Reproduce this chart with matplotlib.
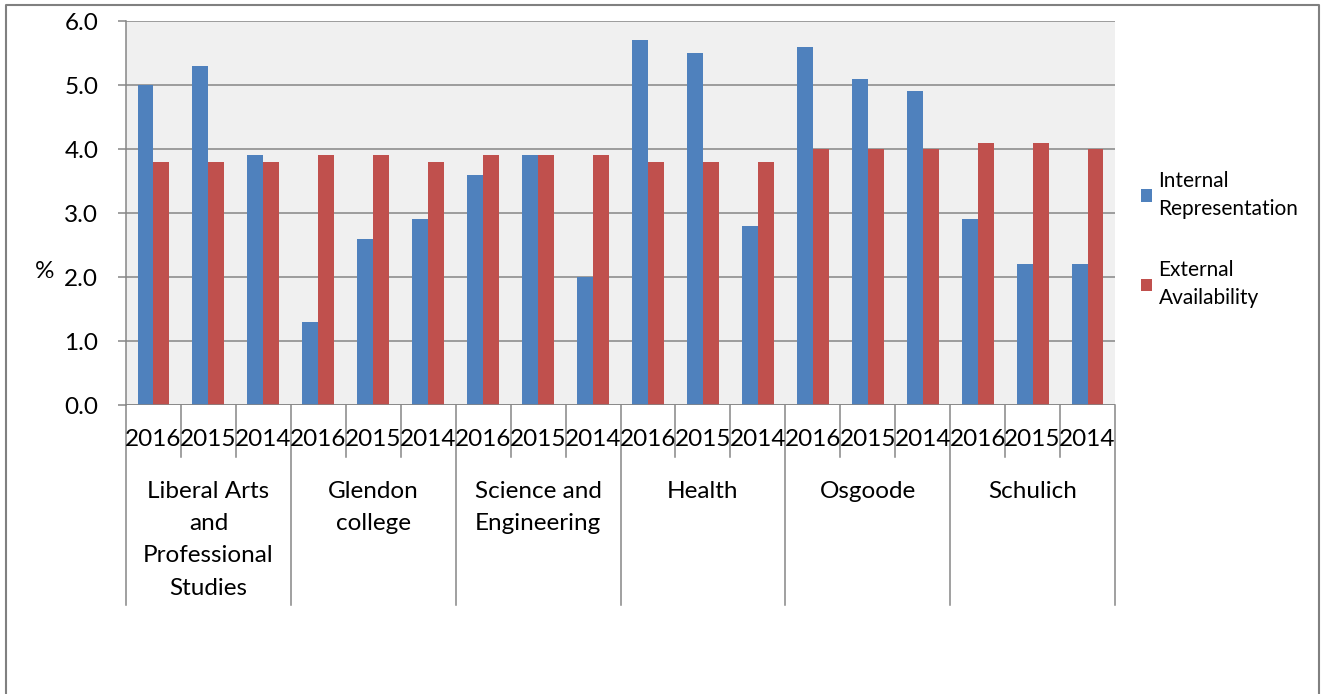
import matplotlib.pyplot as plt
from matplotlib.lines import Line2D
from matplotlib.transforms import blended_transform_factory

# Data
faculties = ['Liberal Arts\nand\nProfessional\nStudies', 'Glendon\ncollege',
             'Science and\nEngineering', 'Health', 'Osgoode', 'Schulich']
years = ['2016', '2015', '2014']
internal = [5.0, 5.3, 3.9,
            1.3, 2.6, 2.9,
            3.6, 3.9, 2.0,
            5.7, 5.5, 2.8,
            5.6, 5.1, 4.9,
            2.9, 2.2, 2.2]
external = [3.8, 3.8, 3.8,
            3.9, 3.9, 3.8,
            3.9, 3.9, 3.9,
            3.8, 3.8, 3.8,
            4.0, 4.0, 4.0,
            4.1, 4.1, 4.0]

plt.rcParams['font.family'] = ['Lato', 'DejaVu Sans']
grid_c = '#868686'
fs = 17.5

fig = plt.figure(figsize=(13.24, 6.94), dpi=100)
ax = fig.add_axes([126 / 1324, 1 - 405 / 694, 989 / 1324, 384 / 694])
ax.set_facecolor('#F0F0F0')

n = len(internal)
xs = list(range(n))
w = 0.29
ax.bar([x - w / 2 for x in xs], internal, width=w, color='#4F81BD', zorder=3,
       label='Internal\nRepresentation')
ax.bar([x + w / 2 for x in xs], external, width=w, color='#C0504D', zorder=3,
       label='External\nAvailability')

ax.set_xlim(-0.5, n - 0.5)
ax.set_ylim(0, 6)
ax.set_yticks([0, 1, 2, 3, 4, 5, 6])
ax.set_yticklabels([f'{v:.1f}' for v in range(7)], fontsize=fs)
ax.yaxis.grid(True, color=grid_c, linewidth=1.1, zorder=1)
ax.tick_params(axis='y', length=6, width=1.1, color=grid_c, pad=14)
ax.set_xticks([])
for s in ['top', 'right', 'bottom']:
    ax.spines[s].set_visible(False)
ax.spines['left'].set_color(grid_c)
ax.spines['left'].set_linewidth(1.1)
# baseline extending past the axis like the other gridlines
ax.axhline(0, color=grid_c, linewidth=1.1, zorder=4)


def fy(p):
    return 1 - p / 694


fig.text(45 / 1324, fy(272), '%', fontsize=fs, ha='center', va='center')

# multi-level category axis
tr = blended_transform_factory(ax.transData, fig.transFigure)
for i in range(n):
    ax.text(i, fy(440), years[i % 3], transform=tr, ha='center', va='center',
            fontsize=fs)
for i in range(n + 1):
    b = i - 0.5
    bottom = 605 if i % 3 == 0 else 457
    ax.add_line(Line2D([b, b], [fy(405), fy(bottom)], transform=tr,
                       color=grid_c, linewidth=1.1, clip_on=False))
for g, name in enumerate(faculties):
    ax.text(g * 3 + 1, fy(481), name, transform=tr, ha='center', va='top',
            fontsize=fs, linespacing=1.66)

leg = ax.legend(loc='upper left', bbox_to_anchor=(1122 / 1324, 1 - 152 / 694),
                bbox_transform=fig.transFigure, frameon=False, fontsize=15,
                handlelength=0.55, handleheight=0.55, handletextpad=0.3,
                labelspacing=2.0)
for t in leg.get_texts():
    t.set_linespacing(1.5)

# outer chart border
fig.add_artist(Line2D([6 / 1324, 6 / 1324, 1319 / 1324, 1319 / 1324],
                      [0, fy(5), fy(5), 0], transform=fig.transFigure,
                      color='#808080', linewidth=1.5))

fig.savefig('out.png', dpi=100)
